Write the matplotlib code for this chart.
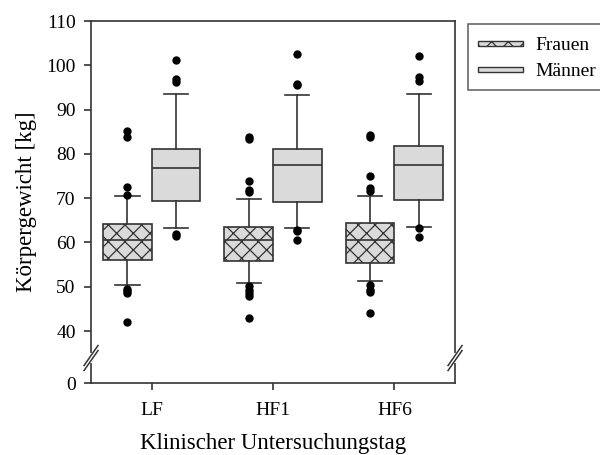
import numpy as np
import matplotlib
matplotlib.use("Agg")
import matplotlib.pyplot as plt
from matplotlib.patches import Patch, Rectangle
from matplotlib.legend_handler import HandlerPatch

plt.rcParams["font.family"] = ["Liberation Serif", "DejaVu Serif"]
plt.rcParams["hatch.color"] = "#1e1e1e"
plt.rcParams["hatch.linewidth"] = 0.9

days = ["LF", "HF1", "HF6"]
groups = ["Frauen", "Männer"]

# box statistics per day (kg)
frauen_q1 = [56.1, 55.9, 55.3]
frauen_med = [60.6, 60.6, 60.6]
frauen_q3 = [64.1, 63.6, 64.4]
frauen_lo = [50.4, 50.8, 51.2]
frauen_hi = [70.5, 69.9, 70.5]
frauen_out = [
    [85.2, 83.8, 72.6, 70.8, 49.6, 49.0, 48.6, 42.1],
    [83.8, 83.4, 73.9, 71.9, 71.3, 50.1, 49.3, 48.6, 48.0, 42.9],
    [84.3, 83.8, 74.9, 72.3, 71.7, 50.4, 49.3, 48.7, 44.0],
]

maenner_q1 = [69.3, 69.1, 69.5]
maenner_med = [76.9, 77.4, 77.4]
maenner_q3 = [81.2, 81.1, 81.7]
maenner_lo = [63.3, 63.3, 63.6]
maenner_hi = [93.6, 93.2, 93.6]
maenner_out = [
    [101.3, 96.9, 96.2, 62.0, 61.4],
    [102.6, 95.8, 95.5, 62.9, 62.5, 60.6],
    [102.1, 97.3, 96.5, 63.2, 61.2],
]

y_ticks = [0, 40, 50, 60, 70, 80, 90, 100, 110]


def stats(q1, med, q3, lo, hi, out):
    return [dict(q1=a, med=b, q3=c, whislo=d, whishi=e, fliers=f)
            for a, b, c, d, e, f in zip(q1, med, q3, lo, hi, out)]


# compressed lower segment of the y axis (broken axis below 30 kg)
BRK, K = 30.0, 0.058


def fwd(v):
    v = np.asarray(v, dtype=float)
    return np.where(v >= BRK, v, BRK - (BRK - v) * K)


def inv(t):
    t = np.asarray(t, dtype=float)
    return np.where(t >= BRK, t, BRK - (BRK - t) / K)


def thin_patch(legend, orig_handle, xdescent, ydescent, width, height, fontsize):
    # flat bar centred in the legend row
    return Rectangle((-xdescent, -ydescent + height / 2 - 2.0), width, 4.0)


edge = "#333333"
fill = "#dadada"

fig = plt.figure(figsize=(6, 4.55), dpi=100)
ax = fig.add_axes([0.1517, 0.1582, 0.6067, 0.7956])
ax.set_yscale("function", functions=(fwd, inv))

pos = np.arange(1, len(days) + 1)
common = dict(widths=0.4, capwidths=0.2, patch_artist=True,
              boxprops=dict(edgecolor=edge, linewidth=1.2),
              medianprops=dict(color=edge, linewidth=1.2),
              whiskerprops=dict(color=edge, linewidth=1.2),
              capprops=dict(color=edge, linewidth=1.2),
              flierprops=dict(marker="o", markerfacecolor="black",
                              markeredgecolor="black", markersize=5))

bf = ax.bxp(stats(frauen_q1, frauen_med, frauen_q3, frauen_lo, frauen_hi, frauen_out),
            positions=pos - 0.2, **common)
bm = ax.bxp(stats(maenner_q1, maenner_med, maenner_q3, maenner_lo, maenner_hi, maenner_out),
            positions=pos + 0.2, **common)
for b in bf["boxes"]:
    b.set_facecolor(fill)
    b.set_hatch("xx")
for b in bm["boxes"]:
    b.set_facecolor(fill)

ax.set_xlim(0.5, 3.5)
ax.set_ylim(0, 110)
ax.set_xticks(pos)
ax.set_xticklabels(days)
ax.set_yticks(y_ticks)
ax.set_yticklabels([str(t) for t in y_ticks])
ax.yaxis.set_minor_locator(matplotlib.ticker.NullLocator())
ax.tick_params(axis="both", direction="out", length=5, width=1.2,
               color=edge, labelsize=14, pad=6)
ax.tick_params(axis="x", pad=9)
for s in ax.spines.values():
    s.set_color(edge)
    s.set_linewidth(1.2)

ax.set_xlabel("Klinischer Untersuchungstag", fontsize=16.5, labelpad=10)
ax.set_ylabel("Körpergewicht [kg]", fontsize=16.5, labelpad=7)

# break marks on both vertical spines
px, py = 1 / 364, 1 / 362
yc = 0.069
for x0 in (0.0, 1.0):
    ax.plot([x0, x0], [yc - 3 * py, yc + 3 * py], transform=ax.transAxes,
            color="white", lw=3, clip_on=False, zorder=5)
    for off in (-2.5, 2.5):
        ax.plot([x0 - 7 * px, x0 + 7 * px],
                [yc + (off - 10) * py, yc + (off + 10) * py],
                transform=ax.transAxes, color=edge, lw=1.1,
                clip_on=False, zorder=6)

handles = [Patch(facecolor=fill, edgecolor=edge, hatch="xx", label=groups[0]),
           Patch(facecolor=fill, edgecolor=edge, label=groups[1])]
leg = fig.legend(handles=handles, loc="upper left",
                 bbox_to_anchor=(468 / 600, 1 - 24 / 455), fontsize=14,
                 frameon=True, fancybox=False, edgecolor=edge,
                 handlelength=2.35, handleheight=1.2, handletextpad=0.6,
                 borderpad=0.5, labelspacing=0.28, borderaxespad=0,
                 handler_map={Patch: HandlerPatch(patch_func=thin_patch)})
leg.get_frame().set_linewidth(1.1)

fig.savefig("out.png", dpi=100)
